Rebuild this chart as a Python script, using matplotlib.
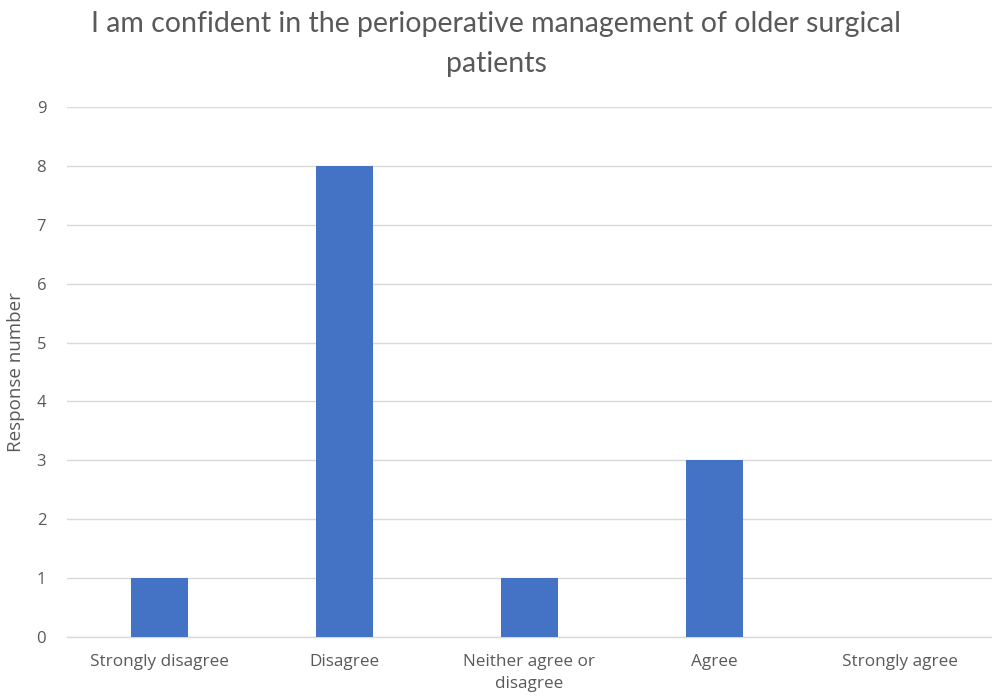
import matplotlib
matplotlib.use("Agg")
import matplotlib.pyplot as plt

categories = ["Strongly disagree", "Disagree", "Neither agree or\ndisagree", "Agree", "Strongly agree"]
responses = [1, 8, 1, 3, 0]
y_ticks = list(range(0, 10))

title = "I am confident in the perioperative management of older surgical\npatients"
y_label = "Response number"

text_color = "#595959"
bar_color = "#4472C4"
grid_color = "#D9D9D9"

plt.rcParams["font.family"] = ["Open Sans", "DejaVu Sans"]

fig = plt.figure(figsize=(9.92, 6.98), dpi=100)
ax = fig.add_axes([0.0675, 0.0874, 0.9325, 0.7593])

x = range(len(categories))
ax.bar(x, responses, width=0.31, color=bar_color, zorder=3)

ax.set_xlim(-0.5, len(categories) - 0.5)
ax.set_ylim(0, 9)
ax.set_yticks(y_ticks)
ax.set_xticks(list(x))
ax.set_xticklabels(categories, fontsize=12.3, color=text_color, linespacing=1.55)
ax.tick_params(axis="y", labelsize=12, labelcolor=text_color, length=0, pad=15)
ax.tick_params(axis="x", length=0, pad=12)

ax.grid(axis="y", color=grid_color, linewidth=1.0, zorder=0)
for side in ["top", "right", "left"]:
    ax.spines[side].set_visible(False)
ax.spines["bottom"].set_color(grid_color)
ax.spines["bottom"].set_linewidth(1.0)

ax.set_ylabel(y_label, fontsize=13.5, color=text_color, labelpad=8)

fig.text(0.5, 0.937, title, ha="center", va="center", fontsize=20.5,
         color=text_color, family=["Lato", "DejaVu Sans"], linespacing=1.7)

fig.savefig("out.png", dpi=100)
